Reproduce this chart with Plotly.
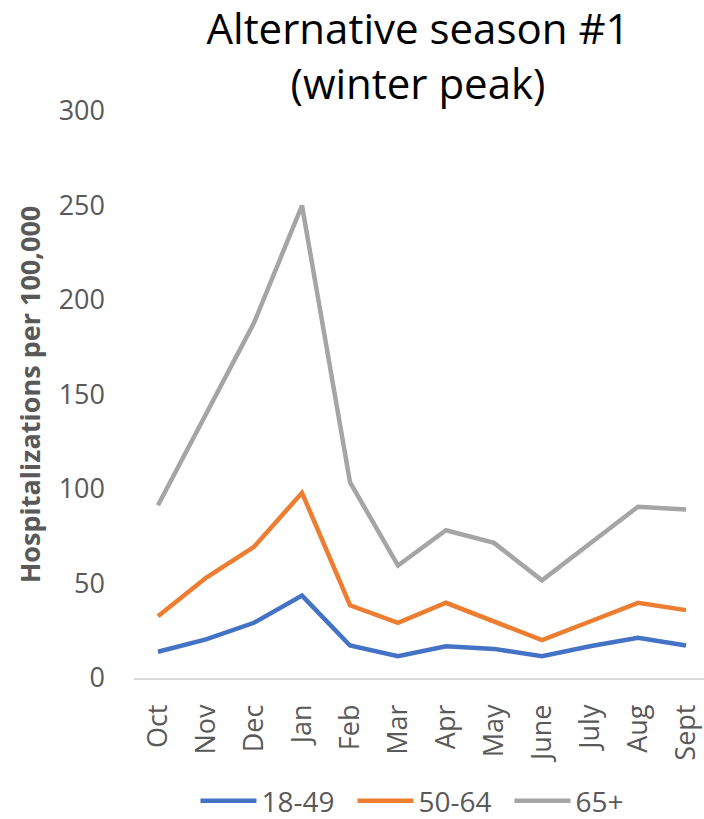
import plotly.graph_objects as go

# Monthly hospitalization rates per 100,000 by age group (Oct through Sept)
months = ["Oct", "Nov", "Dec", "Jan", "Feb", "Mar", "Apr", "May", "June", "July", "Aug", "Sept"]
age_18_49 = [13.9, 20.4, 29.2, 43.6, 17.2, 11.5, 16.8, 15.4, 11.5, 16.8, 21.3, 17.2]
age_50_64 = [32.7, 53.0, 69.4, 98.0, 38.5, 29.2, 39.8, 30.0, 20.0, 29.9, 39.8, 35.9]
age_65_plus = [91.4, 140.0, 187.9, 250.0, 103.6, 59.5, 78.2, 71.5, 51.7, 71.2, 90.6, 89.2]

series = [
    ("18-49", age_18_49, "#4472C4"),
    ("50-64", age_50_64, "#ED7D31"),
    ("65+", age_65_plus, "#A5A5A5"),
]

FONT = "Open Sans"
GREY_TEXT = "#595959"

fig = go.Figure()
for name, values, color in series:
    fig.add_trace(go.Scatter(
        x=months, y=values, name=name, mode="lines",
        line=dict(color=color, width=4.5),
    ))

fig.update_layout(
    width=704, height=819,
    margin=dict(l=134, r=0, t=111, b=141, autoexpand=False),
    paper_bgcolor="white", plot_bgcolor="white",
    font=dict(family=FONT, color=GREY_TEXT),
    title=dict(
        text="Alternative season #1<br>(winter peak)",
        font=dict(family=FONT, size=42, color="black"),
        x=418 / 704, xref="container", xanchor="center",
        y=1 - 44 / 819, yref="container", yanchor="middle",
    ),
    showlegend=True,
    legend=dict(
        orientation="h", x=0.521, xanchor="center",
        y=1 - 801 / 819, yref="container", yanchor="middle",
        font=dict(family=FONT, size=28, color=GREY_TEXT),
        itemwidth=56, entrywidth=86, entrywidthmode="pixels",
    ),
)

fig.update_xaxes(
    type="category", range=[-0.5, 11.375],
    showgrid=False, zeroline=False,
    showline=True, linecolor="#D9D9D9", linewidth=1.5,
    tickangle=-90, tickfont=dict(family=FONT, size=27, color=GREY_TEXT),
    ticks="", ticklabelstandoff=14,
)
fig.update_yaxes(
    range=[0, 300], dtick=50,
    showgrid=False, zeroline=False, showline=False,
    tickfont=dict(family=FONT, size=27, color=GREY_TEXT),
    ticks="", ticklabelstandoff=28,
    title=dict(text="<b>Hospitalizations per 100,000</b>",
               font=dict(family=FONT, size=27, color=GREY_TEXT), standoff=10),
)

fig.write_html("out.html")
